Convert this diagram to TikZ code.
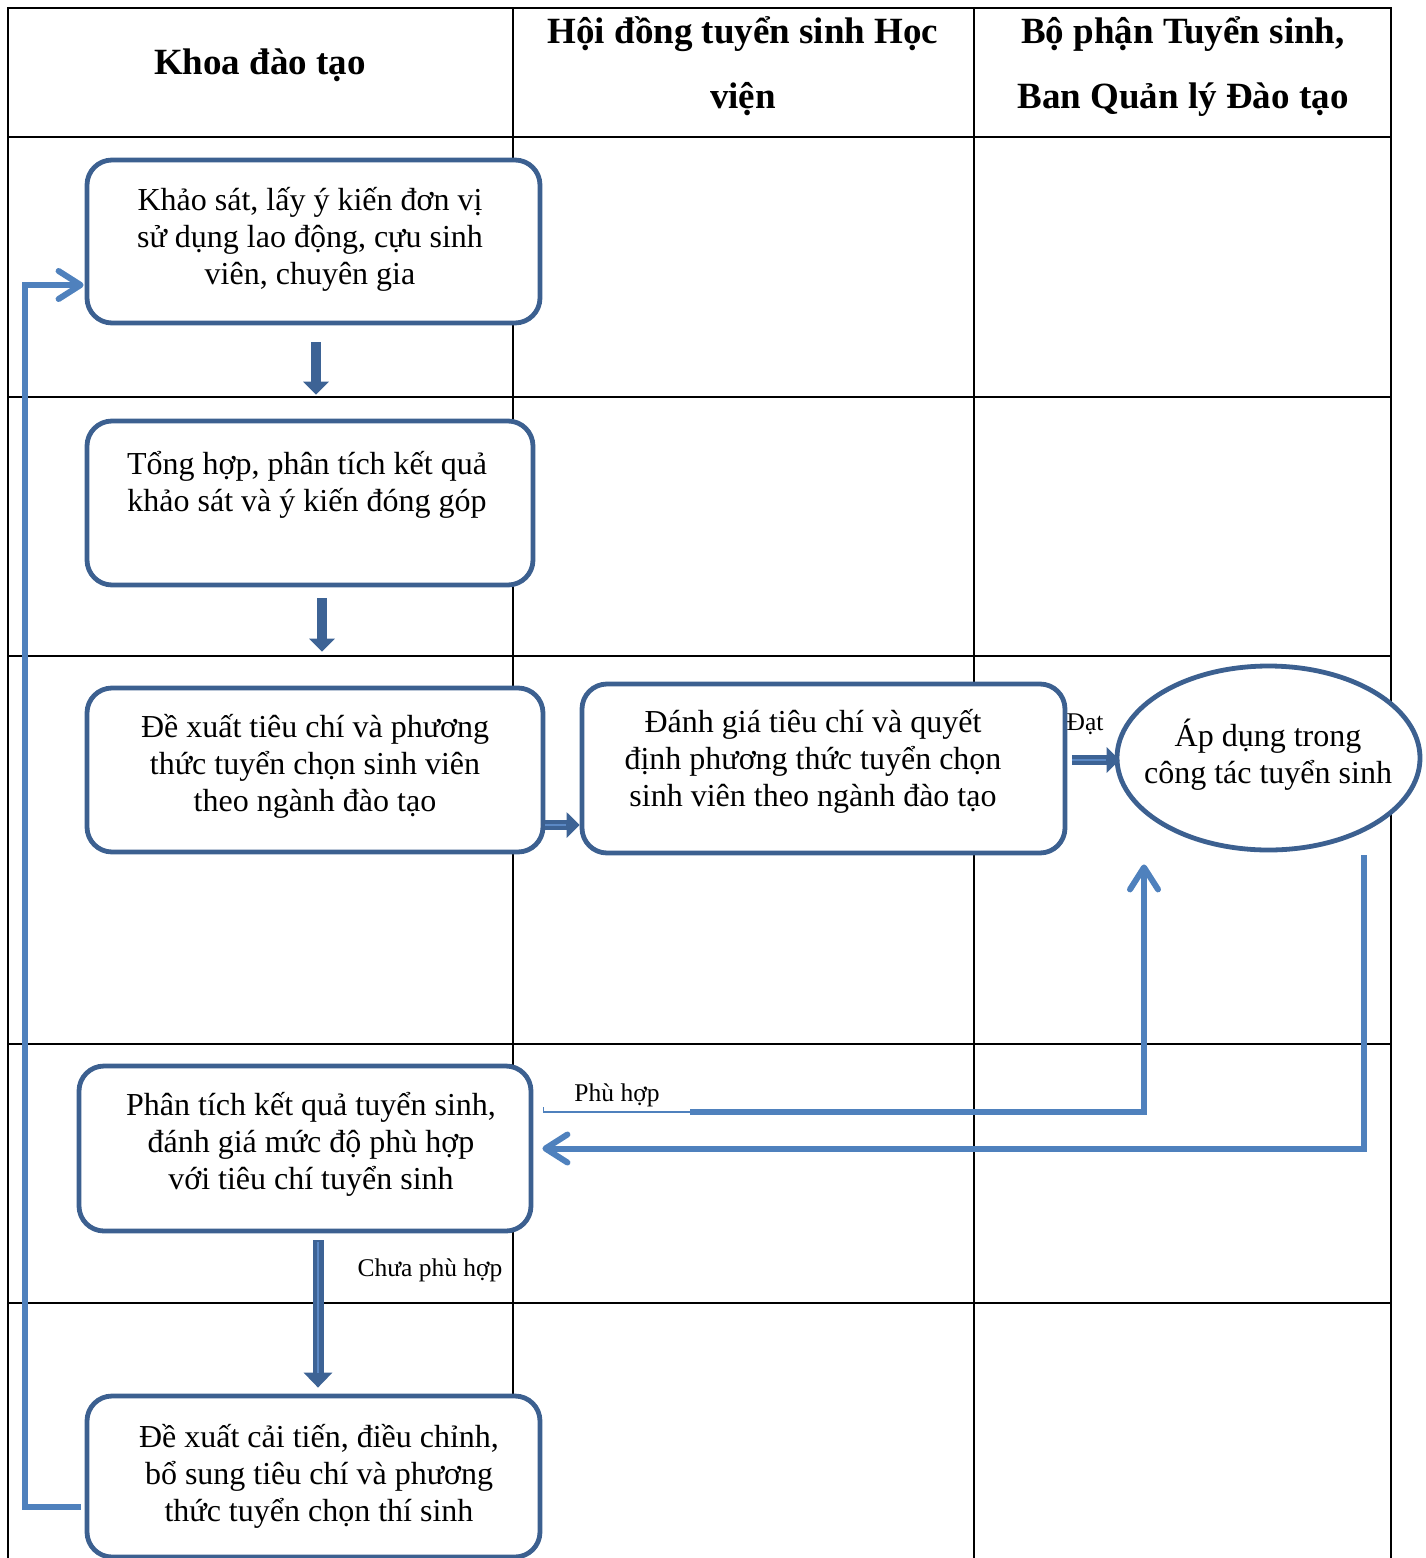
\documentclass[tikz,border=0pt]{standalone}
\usepackage{fontspec}
\setmainfont{Liberation Serif}
\usetikzlibrary{arrows.meta,calc,shapes.geometric}
\definecolor{boxc}{HTML}{3C6090}
\definecolor{linec}{HTML}{4F81BD}
\definecolor{blkc}{HTML}{3D6395}
\definecolor{blkin}{HTML}{5B88C4}
\begin{document}
\begin{tikzpicture}[x=1pt,y=-1pt,
  tbl/.style={line width=2.5pt,black},
  box/.style={draw=boxc,line width=4.8pt,fill=white,rounded corners=25pt,inner sep=0pt},
  ellbox/.style={ellipse,draw=boxc,line width=4.8pt,fill=white,inner sep=0pt},
  txt/.style={align=center,inner sep=0pt,font=\fontsize{32}{37}\selectfont},
  hdr/.style={align=center,inner sep=0pt,font=\fontsize{37}{65}\selectfont\bfseries},
  lbl/.style={inner sep=0pt,font=\fontsize{25.5}{30}\selectfont},
  blk/.style={draw=blkc,line width=10pt,-{Triangle[length=13pt,width=25pt]}},
  blkinner/.style={draw=blkin,line width=2.5pt},
  ln/.style={draw=linec,line width=6pt},
  lnarrow/.style={ln,-{Straight Barb[length=22pt,width=28pt,round]}},
  thinln/.style={draw=linec,line width=1.8pt}]
\useasboundingbox (0,0) rectangle (1426,1558);
\clip (0,0) rectangle (1426,1558);
% table grid
\draw[tbl] (8,1560) -- (8,8) -- (1391,8) -- (1391,1560);
\foreach \yy in {137,397,656,1044,1303} \draw[tbl] (8,\yy) -- (1391,\yy);
\foreach \xx in {513,974} \draw[tbl] (\xx,8) -- (\xx,1560);
% headers
\node[hdr] (h1) at (260,65) {Khoa đào tạo};
\node[hdr] (h2) at (743,66.5) {Hội đồng tuyển sinh Học\\viện};
\node[hdr] (h3) at (1183,66.5) {Bộ phận Tuyển sinh,\\Ban Quản lý Đào tạo};
% boxes
\node[box,minimum width=453pt,minimum height=163pt] (b1) at (313.5,241.5) {};
\node[box,minimum width=446pt,minimum height=164pt] (b2) at (310,503) {};
\node[box,minimum width=456pt,minimum height=164pt] (b3) at (315,770) {};
\node[box,minimum width=483pt,minimum height=169pt] (b4) at (823.5,768.5) {};
\node[ellbox,minimum width=303pt,minimum height=184pt] (ell) at (1268.5,758) {};
\node[box,minimum width=452pt,minimum height=165pt] (b6) at (305,1148.5) {};
\node[box,minimum width=453pt,minimum height=161pt] (b7) at (313.5,1476.5) {};
% texts
\node[txt] (t1) at (310,239.5) {Khảo sát, lấy ý kiến đơn vị\\sử dụng lao động, cựu sinh\\viên, chuyên gia};
\node[txt] (t2) at (307,485) {Tổng hợp, phân tích kết quả\\khảo sát và ý kiến đóng góp};
\node[txt] (t3) at (315,766.5) {Đề xuất tiêu chí và phương\\thức tuyển chọn sinh viên\\theo ngành đào tạo};
\node[txt] (t4) at (813,761) {Đánh giá tiêu chí và quyết\\định phương thức tuyển chọn\\sinh viên theo ngành đào tạo};
\node[txt] (te) at (1268,755) {Áp dụng trong\\công tác tuyển sinh};
\node[txt] (t6) at (311,1144.5) {Phân tích kết quả tuyển sinh,\\đánh giá mức độ phù hợp\\với tiêu chí tuyển sinh};
\node[txt] (t7) at (319,1476) {Đề xuất cải tiến, điều chỉnh,\\bổ sung tiêu chí và phương\\thức tuyển chọn thí sinh};
% labels
\node[lbl] (ldat) at (1085,724) {Đạt};
\node[lbl] (lph) at (617,1095) {Phù hợp};
\node[lbl] (lcph) at (430,1270) {Chưa phù hợp};
% block arrows
\draw[blk,shorten <=17pt,shorten >=24pt] ([xshift=2.5pt]b1.south) -- ([xshift=2.5pt]b1.south |- b2.north);
\draw[blk,shorten <=11pt,shorten >=34pt] ([xshift=12pt]b2.south) -- ([xshift=12pt]b2.south |- b3.north);
\draw[blk] ([yshift=-55pt]b3.east) -- ([yshift=-55pt]b3.east -| b4.west);
\draw[blkinner,shorten >=14pt] ([yshift=-55pt]b3.east) -- ([yshift=-55pt]b3.east -| b4.west);
\draw[blk,shorten <=5pt,shorten >=-5pt] ([yshift=8.5pt]b4.east) -- ([yshift=8.5pt]b4.east -| ell.west);
\draw[blkinner,shorten <=5pt,shorten >=9pt] ([yshift=8.5pt]b4.east) -- ([yshift=8.5pt]b4.east -| ell.west);
\draw[blk,line width=11pt,-{Triangle[length=15pt,width=28pt]},shorten <=7pt,shorten >=6pt] ([xshift=13pt]b6.south) -- ([xshift=13pt]b6.south |- b7.north);
\draw[blkinner,line width=2pt,shorten <=9pt,shorten >=21pt] ([xshift=13pt]b6.south) -- ([xshift=13pt]b6.south |- b7.north);
% feedback loop
\coordinate (lb) at (25,1507);
\coordinate (lt) at (25,285);
\draw[lnarrow,shorten <=4pt,shorten >=1pt] (b7.west |- lb) -- (lb) -- (lt) -- (b1.west |- lt);
% Phu hop connector
\coordinate (p0) at ($(b6.east)+(10,-36.5)$);
\coordinate (p1) at (690,1112);
\coordinate (p2) at (1144,1112);
\draw[thinln] (p0) -- (p1);
\draw[thinln] (p0) -- ++(0,-5);
\draw[lnarrow,shorten >=12pt] (p1) -- (p2) -- (p2 |- ell.south);
% return connector
\coordinate (r0) at (1363.5,855);
\coordinate (r1) at (1363.5,1148.5);
\draw[lnarrow,shorten >=9pt] (r0) -- (r1) -- (b6.east);
\end{tikzpicture}
\end{document}
